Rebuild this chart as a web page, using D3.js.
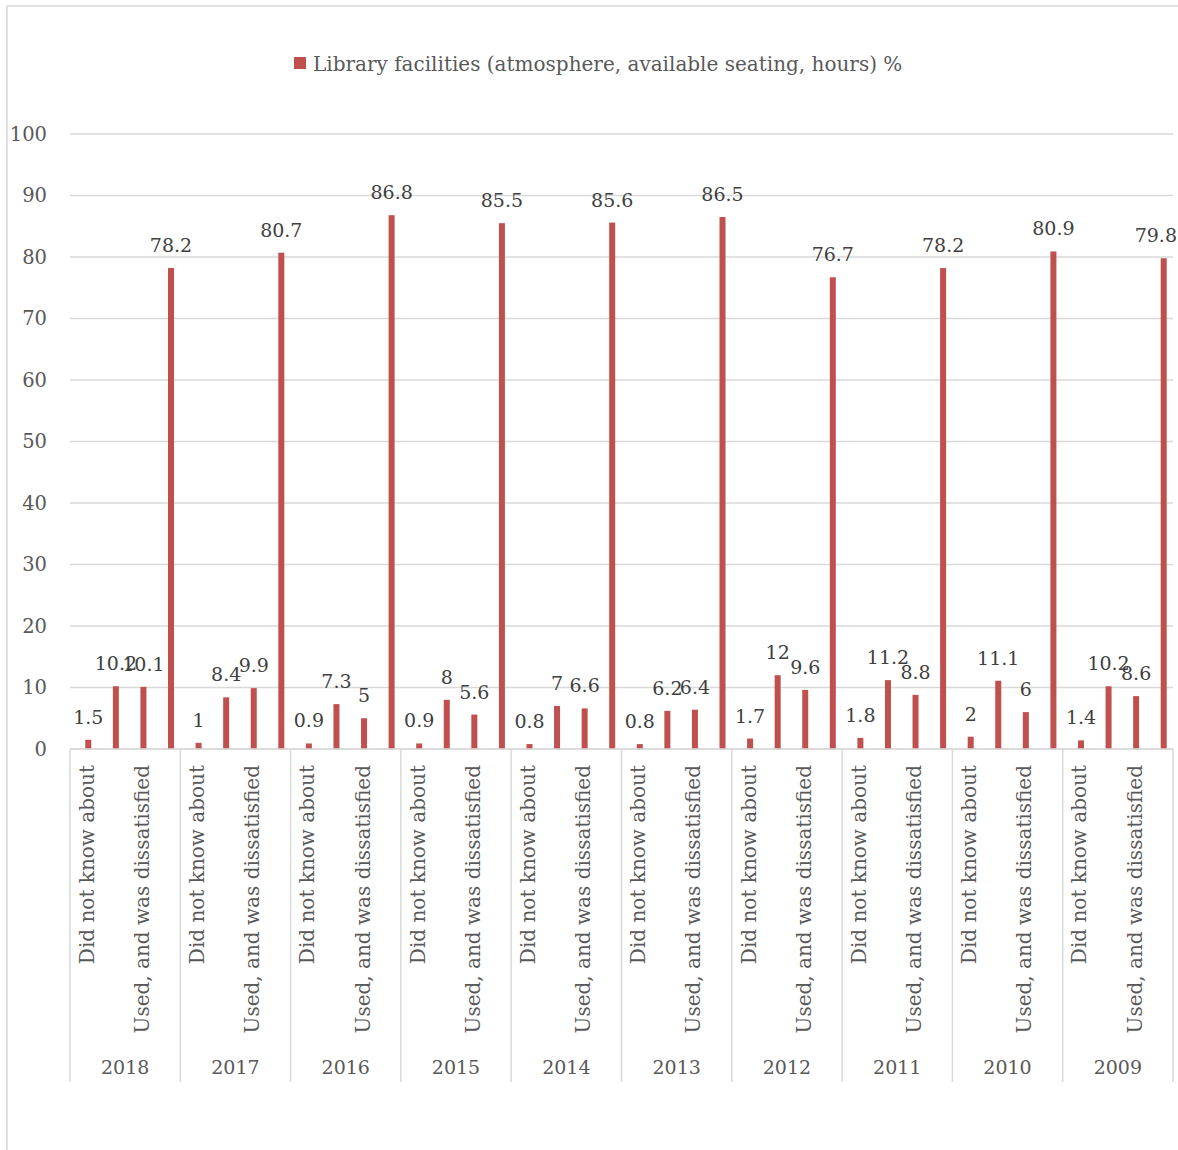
<!DOCTYPE html>
<html><head><meta charset="utf-8">
<script src="https://cdn.jsdelivr.net/npm/d3@7"></script>
<style>
body{margin:0;background:#fff;}
svg{display:block;}
text{font-family:"DejaVu Serif",serif;fill:#595959;}
</style></head>
<body>
<svg id="c" width="1178" height="1150"></svg>
<script>
const years = ["2018","2017","2016","2015","2014","2013","2012","2011","2010","2009"];
const categories = ["Did not know about","Did not use","Used, and was dissatisfied","Used, and was satisfied"];
const shownCategories = [true,false,true,false];
const values = [
  [1.5,10.2,10.1,78.2],
  [1,8.4,9.9,80.7],
  [0.9,7.3,5,86.8],
  [0.9,8,5.6,85.5],
  [0.8,7,6.6,85.6],
  [0.8,6.2,6.4,86.5],
  [1.7,12,9.6,76.7],
  [1.8,11.2,8.8,78.2],
  [2,11.1,6,80.9],
  [1.4,10.2,8.6,79.8]
];
const yTicks = [0,10,20,30,40,50,60,70,80,90,100];
const seriesName = "Library facilities (atmosphere, available seating, hours) %";

const svg = d3.select("#c");
const grid = "#d9d9d9", barColor = "#c0504d";
const L = 70, R = 1173, T = 134, B = 749;

// outer frame
svg.append("line").attr("x1",7).attr("x2",7).attr("y1",6).attr("y2",1150).attr("stroke",grid).attr("stroke-width",1.5);
svg.append("line").attr("x1",7).attr("x2",1178).attr("y1",6).attr("y2",6).attr("stroke",grid).attr("stroke-width",1.5);

const y = d3.scaleLinear().domain([0,100]).range([B,T]);
const xGroup = d3.scaleBand().domain(years).range([L,R]).paddingInner(0).paddingOuter(0);
const keys = [];
years.forEach((yr,i)=>categories.forEach((c,j)=>keys.push({yr,c,j,v:values[i][j]})));
const xBar = d3.scaleBand().domain(keys.map(d=>d.yr+"|"+d.c)).range([L+4.5,R+4.5]);
const cx = d=>xBar(d.yr+"|"+d.c)+xBar.bandwidth()/2;

// gridlines
svg.append("g").selectAll("line").data(yTicks).join("line")
  .attr("x1",L).attr("x2",R).attr("y1",d=>y(d)).attr("y2",d=>y(d))
  .attr("stroke",grid).attr("stroke-width",1.3);
svg.append("g").selectAll("text").data(yTicks).join("text")
  .attr("x",47).attr("y",d=>y(d)).attr("dy","0.35em").attr("text-anchor","end")
  .attr("font-size",19.5).text(d=>d);

// bars
const bw = 6;
svg.append("g").selectAll("rect").data(keys).join("rect")
  .attr("x",d=>cx(d)-bw/2)
  .attr("width",bw)
  .attr("y",d=>y(d.v)).attr("height",d=>B-y(d.v))
  .attr("fill",barColor);
svg.append("g").selectAll("text").data(keys).join("text")
  .attr("x",d=>cx(d))
  .attr("y",d=>y(d.v)-16).attr("text-anchor","middle")
  .attr("font-size",19).style("fill","#404040").text(d=>d.v)
  .each(function(){
    const b=this.getBBox();
    if(b.x+b.width>1177){d3.select(this).attr("x",+d3.select(this).attr("x")-(b.x+b.width-1177));}
  });

// category axis
const dividers = years.map(yr=>xGroup(yr)).concat([R]);
svg.append("g").selectAll("line").data(dividers).join("line")
  .attr("x1",d=>d).attr("x2",d=>d).attr("y1",B).attr("y2",1082)
  .attr("stroke",grid).attr("stroke-width",1.5);
svg.append("line").attr("x1",L).attr("x2",R).attr("y1",B).attr("y2",B).attr("stroke",grid).attr("stroke-width",1.5);
svg.append("g").selectAll("text").data(keys.filter(d=>shownCategories[d.j])).join("text")
  .attr("transform",d=>`translate(${cx(d)-1.5},765) rotate(-90)`)
  .attr("dy","0.35em").attr("text-anchor","end").attr("font-size",20).text(d=>d.c);
svg.append("g").selectAll("text").data(years).join("text")
  .attr("x",d=>xGroup(d)+xGroup.bandwidth()/2).attr("y",1074).attr("text-anchor","middle")
  .attr("font-size",19).text(d=>d);

// legend
svg.append("rect").attr("x",294).attr("y",57).attr("width",12).attr("height",12).attr("fill",barColor);
svg.append("text").attr("x",313).attr("y",71).attr("font-size",20).text(seriesName);
</script>
</body></html>
